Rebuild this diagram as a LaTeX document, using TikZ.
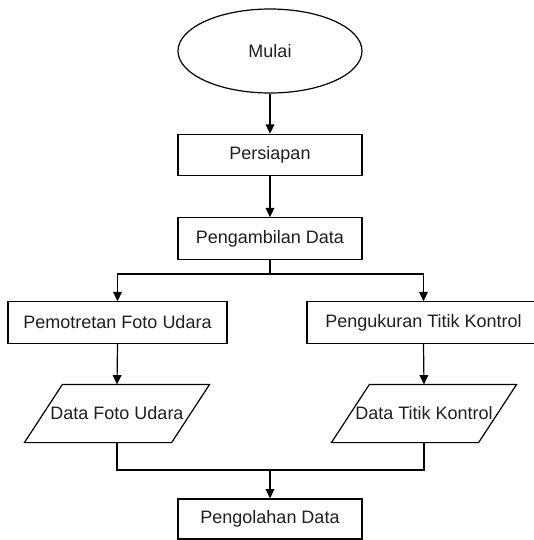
\documentclass[tikz,border=0pt]{standalone}
\usepackage{fontspec}
\setmainfont{Liberation Sans}
\usetikzlibrary{arrows.meta,shapes.geometric}
\begin{document}
\begin{tikzpicture}[x=0.75pt,y=-0.75pt,
  base/.style={draw=black,line width=0.9pt,fill=white,text=black!88,
    font=\fontsize{13.5}{16}\selectfont,inner sep=0pt},
  procbox/.style={base,rectangle,minimum height=31pt},
  startend/.style={base,ellipse,minimum width=138pt,minimum height=63pt},
  iotext/.style={base,draw=none,fill=none,rectangle,minimum width=138pt,minimum height=42.75pt},
  ioshape/.style={draw=black,line width=0.9pt,fill=white},
  conn/.style={draw=black,line width=0.9pt},
  arr/.style={conn,-{Triangle[length=7pt,width=6.5pt]}}]
\useasboundingbox (0,0) rectangle (534,540);
\node[startend] (mulai) at (270,51) {Mulai};
\node[procbox,minimum width=138pt] (persiapan) at (270,155) {Persiapan};
\node[procbox,minimum width=138pt] (ambil) at (270,238.5) {Pengambilan Data};
\node[procbox,minimum width=164.25pt] (potret) at (117.5,322.5) {Pemotretan Foto Udara};
\node[procbox,minimum width=174.75pt] (ukur) at (423.5,322.5) {Pengukuran Titik Kontrol};
\node[iotext] (foto) at (117,413.5) {};
\node[iotext] (titik) at (424,413.5) {};
\foreach \n in {foto,titik}
  \draw[ioshape] ([xshift=28.5pt]\n.north west) -- (\n.north east)
    -- ([xshift=-28.5pt]\n.south east) -- (\n.south west) -- cycle;
\node[iotext] at (foto) {Data Foto Udara};
\node[iotext] at (titik) {Data Titik Kontrol};
\node[procbox,minimum width=138pt,minimum height=30pt] (olah) at (270,519) {Pengolahan Data};
\coordinate (j1) at (270,274);
\coordinate (j2) at (270,470);
\draw[arr] (mulai.south) -- (persiapan.north);
\draw[arr] (persiapan.south) -- (ambil.north);
\draw[conn] (ambil.south) -- (j1);
\draw[arr] (j1) -| (potret.north);
\draw[arr] (j1) -| (ukur.north);
\draw[arr] (potret.south) -- (foto.north);
\draw[arr] (ukur.south) -- (titik.north);
\draw[conn] (foto.south) |- (j2);
\draw[conn] (titik.south) |- (j2);
\draw[arr] (j2) -- (olah.north);
\end{tikzpicture}
\end{document}
